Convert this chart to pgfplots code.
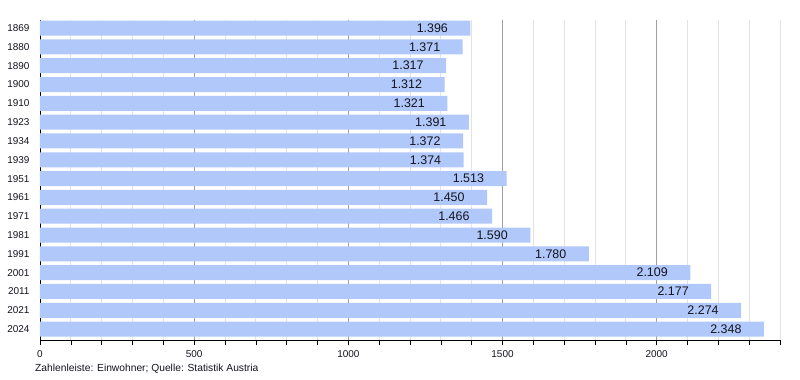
\documentclass[border=0pt]{standalone}
\usepackage{fontspec}
\setmainfont{Liberation Sans}
\usepackage{pgfplots}
\pgfplotsset{compat=1.18}
\definecolor{barblue}{RGB}{176,200,250}
\definecolor{txt}{RGB}{20,20,30}
\begin{document}
\begin{tikzpicture}
\begin{axis}[
  scale only axis,
  width=740bp, height=320bp,
  xbar, bar width=15bp,
  xmin=0, xmax=2400,
  ymin=-0.58, ymax=16.43,
  axis x line*=bottom, axis y line*=left,
  axis line style={black, line width=0.8pt},
  xtick={0,500,1000,1500,2000},
  minor xtick={100,200,...,2400},
  xticklabels={0,500,1000,1500,2000},
  tick align=outside,
  major tick length=5bp, minor tick length=5bp,
  x tick style={black, line width=0.6pt},
  minor x tick style={black, line width=0.6pt},
  ytick={0,...,16},
  yticklabels={2024,2021,2011,2001,1991,1981,1971,1961,1951,1939,1934,1923,1910,1900,1890,1880,1869},
  y tick style={draw=none},
  y tick label style={font=\fontsize{10}{12}\selectfont, text=txt, xshift=-2bp},
  x tick label style={font=\fontsize{10}{12}\selectfont, text=txt, yshift=-2bp},
  xmajorgrids, xminorgrids,
  major grid style={gray!75, line width=0.7pt},
  minor grid style={gray!22, line width=0.7pt},
  point meta=x,
  nodes near coords={\pgfmathprintnumber[1000 sep={.}, assume math mode=true]{\pgfplotspointmeta}},
  every node near coord/.append style={anchor=east, xshift=-19bp, font=\fontsize{12.5}{14}\selectfont, text=txt},
  clip=false,
]
\addplot[draw=none, fill=barblue] coordinates {
(2348,0) (2274,1) (2177,2) (2109,3) (1780,4) (1590,5) (1466,6) (1450,7) (1513,8)
(1374,9) (1372,10) (1391,11) (1321,12) (1312,13) (1317,14) (1371,15) (1396,16)
};
\node[anchor=north west, font=\fontsize{10.3}{12}\selectfont, text=txt, inner sep=0pt] at (rel axis cs:0,0) [xshift=-5bp, yshift=-24bp] {Zahlenleiste: Einwohner; Quelle: Statistik Austria};
\end{axis}
\path (-40bp,-40bp) rectangle (760bp,340bp);
\end{tikzpicture}
\end{document}
